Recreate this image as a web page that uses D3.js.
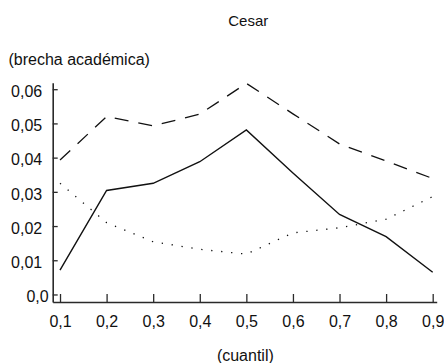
<!DOCTYPE html>
<html>
<head>
<meta charset="utf-8">
<script src="https://cdn.jsdelivr.net/npm/d3@7"></script>
<style>
  html, body { margin: 0; padding: 0; background: #fff; }
  svg { display: block; }
  text { font-family: "Liberation Sans", Arial, sans-serif; fill: #111; }
</style>
</head>
<body>
<svg id="chart" width="444" height="363"></svg>
<script>
// Quantiles on the horizontal axis
const quantiles = [0.1, 0.2, 0.3, 0.4, 0.5, 0.6, 0.7, 0.8, 0.9];
// Academic gap by quantile, three series
const serieContinua = [0.0071, 0.0304, 0.0325, 0.0388, 0.0481, 0.0355, 0.0234, 0.0169, 0.0065];
const serieGuiones  = [0.0393, 0.0520, 0.0493, 0.0527, 0.0617, 0.0528, 0.0440, 0.0390, 0.0339];
const seriePuntos   = [0.0325, 0.0210, 0.0154, 0.0132, 0.0118, 0.0180, 0.0195, 0.0220, 0.0286];
// Tick values and labels
const yTicks = [0, 0.01, 0.02, 0.03, 0.04, 0.05, 0.06];
const yTickLabels = ["0,0", "0,01", "0,02", "0,03", "0,04", "0,05", "0,06"];
const xTickLabels = ["0,1", "0,2", "0,3", "0,4", "0,5", "0,6", "0,7", "0,8", "0,9"];
const titulo = "Cesar";
const tituloY = "(brecha académica)";
const tituloX = "(cuantil)";

const svg = d3.select("#chart");

const x = d3.scaleLinear().domain([0.0843, 0.9086]).range([52.7, 436.7]);
const y = d3.scaleLinear().domain([-0.0022, 0.0619]).range([302, 82.7]);

const axisColor = "#2a2a2a";

// X axis: ticks pointing up into the plot
const gx = svg.append("g").attr("transform", `translate(0,${y.range()[0]})`)
  .call(d3.axisBottom(x)
    .tickValues(quantiles)
    .tickFormat((d, i) => xTickLabels[i])
    .tickSizeInner(-8)
    .tickSizeOuter(0)
    .tickPadding(14));
gx.select(".domain").attr("stroke", axisColor).attr("stroke-width", 1.6);
gx.selectAll(".tick line").attr("stroke", axisColor).attr("stroke-width", 1.3);
gx.selectAll(".tick text").attr("font-size", 16).attr("font-family", "Liberation Sans, Arial, sans-serif")
  .attr("fill", "#111");

// Y axis: ticks pointing right into the plot
const gy = svg.append("g").attr("transform", `translate(${x.range()[0]},0)`)
  .call(d3.axisLeft(y)
    .tickValues(yTicks)
    .tickFormat((d, i) => yTickLabels[i])
    .tickSizeInner(-5)
    .tickSizeOuter(0)
    .tickPadding(10.5));
gy.select(".domain").attr("stroke", axisColor).attr("stroke-width", 1.6);
gy.selectAll(".tick line").attr("stroke", axisColor).attr("stroke-width", 1.3);
gy.selectAll(".tick text").attr("font-size", 16).attr("font-family", "Liberation Sans, Arial, sans-serif")
  .attr("fill", "#111")
  .attr("dy", "0.45em")
  .attr("dx", d => d === 0 ? 6.5 : 0);

// Series lines
const line = d3.line().x((d, i) => x(quantiles[i])).y(d => y(d));

svg.append("path").datum(serieGuiones)
  .attr("d", line).attr("fill", "none")
  .attr("stroke", "#111").attr("stroke-width", 1.3)
  .attr("stroke-dasharray", "14,10");

svg.append("path").datum(seriePuntos)
  .attr("d", line).attr("fill", "none")
  .attr("stroke", "#111").attr("stroke-width", 1.3)
  .attr("stroke-dasharray", "1.3,8.7");

svg.append("path").datum(serieContinua)
  .attr("d", line).attr("fill", "none")
  .attr("stroke", "#111").attr("stroke-width", 1.4)
  .attr("stroke-linejoin", "miter");

// Titles
svg.append("text").attr("x", 248.3).attr("y", 25.5)
  .attr("text-anchor", "middle").attr("font-size", 15).text(titulo);
svg.append("text").attr("x", 8.5).attr("y", 65)
  .attr("font-size", 16).text(tituloY);
svg.append("text").attr("x", x(0.5) - 1).attr("y", 360.5)
  .attr("text-anchor", "middle").attr("font-size", 16).text(tituloX);
</script>
</body>
</html>
